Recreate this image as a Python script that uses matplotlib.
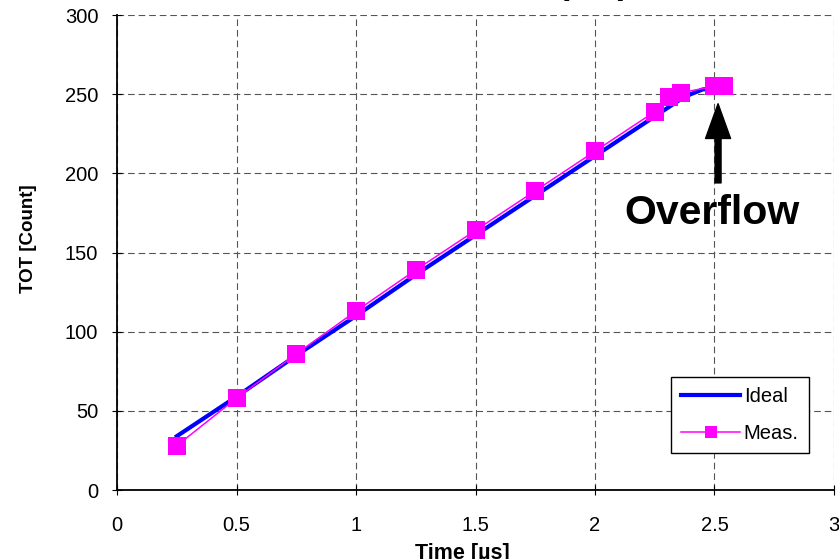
import numpy as np
import matplotlib
matplotlib.use("Agg")
import matplotlib.pyplot as plt

plt.rcParams['font.family'] = ['Liberation Sans', 'DejaVu Sans']

# ===============================
# DATA
# ===============================

# Ideal TOT response
t_ideal = [0.25, 0.5, 0.75, 1.0, 1.25, 1.5, 1.75, 2.0, 2.25, 2.3, 2.35, 2.4, 2.45, 2.5]
tot_ideal = [34, 59, 85, 110, 136, 161, 186, 211, 236, 241, 246, 250, 253, 254]

# Measured TOT
t_meas = [0.25, 0.5, 0.75, 1.0, 1.25, 1.5, 1.75, 2.0, 2.25, 2.31, 2.36, 2.5, 2.54]
tot_meas = [28, 58, 86, 113, 139, 164, 189, 214, 239, 248, 251, 255, 255]

x_ticks = [0, 0.5, 1, 1.5, 2, 2.5, 3]
x_ticklabels = ["0", "0.5", "1", "1.5", "2", "2.5", "3"]
y_ticks = [0, 50, 100, 150, 200, 250, 300]

# ===============================
# PLOTTING
# ===============================

fig = plt.figure(figsize=(8.39, 5.59), dpi=100)
ax = fig.add_axes([0.1395, 0.1234, 0.8545, 0.8496])

ax.plot(t_ideal, tot_ideal, color='#0000FF', lw=3, label='Ideal', zorder=3)
ax.plot(t_meas, tot_meas, color='#FF00FF', lw=1.1, marker='s', ms=13.5,
        markeredgewidth=0, label='Meas.', zorder=4)

ax.set_xlim(0, 3)
ax.set_ylim(0, 300)
ax.set_xticks(x_ticks)
ax.set_xticklabels(x_ticklabels)
ax.set_yticks(y_ticks)
ax.tick_params(direction='inout', length=7, width=0.8, labelsize=14.5)
ax.tick_params(axis='x', pad=15)
ax.tick_params(axis='y', pad=10)

ax.grid(True, color='#555555', linestyle=(0, (6, 3.5)), linewidth=0.8)
ax.spines['top'].set_visible(False)
ax.spines['right'].set_visible(False)
ax.spines['left'].set_linewidth(1.3)
ax.spines['bottom'].set_linewidth(1.3)

ax.set_xlabel("Time [\u00b5s]", fontsize=15.5, fontweight='bold')
ax.xaxis.set_label_coords(0.482, -0.112)
ax.set_ylabel("TOT [Count]", fontsize=13.5, fontweight='bold')
ax.yaxis.set_label_coords(-0.112, 0.53)

# Overflow annotation
ax.annotate("", xy=(2.515, 244), xytext=(2.515, 194),
            arrowprops=dict(facecolor='black', edgecolor='black', width=4.3,
                            headwidth=18, headlength=25, shrink=0))
ax.text(2.49, 175, "Overflow", fontsize=29.5, fontweight='bold',
        ha='center', va='center')

leg = ax.legend(loc='lower right', fontsize=14.5, frameon=True, fancybox=False,
                edgecolor='black', framealpha=1, markerscale=0.65,
                handlelength=2.9, borderpad=0.5, labelspacing=0.9,
                handletextpad=0.2, borderaxespad=0,
                bbox_to_anchor=(0.965, 0.078))
leg.get_frame().set_linewidth(1.0)

# Title (mostly outside the visible area)
fig.text(0.75, 1.011, "Pixel (7,7)", fontsize=25, fontweight='bold',
         ha='right', va='baseline')

fig.savefig("out.png", dpi=100)
